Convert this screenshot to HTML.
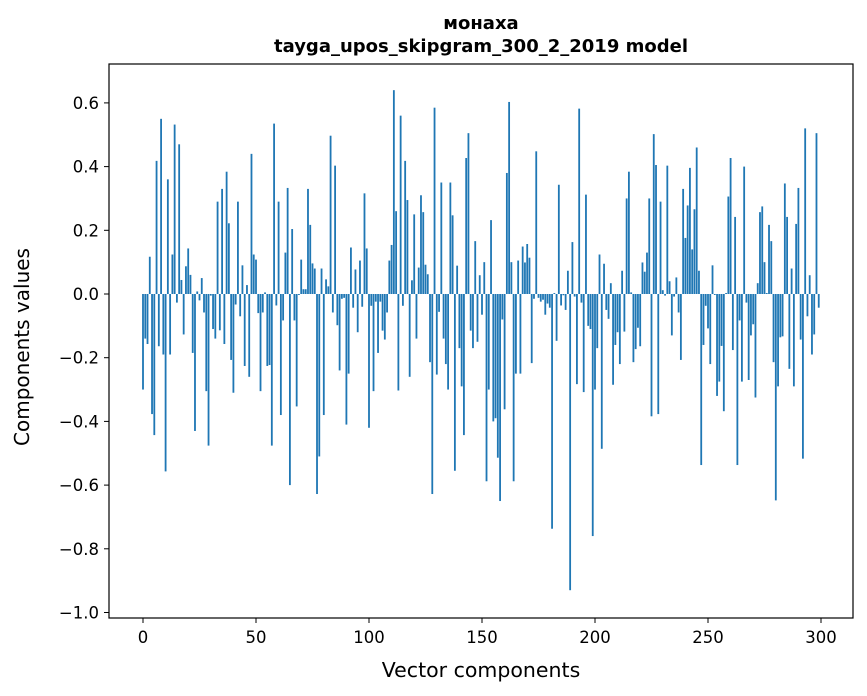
<!DOCTYPE html>
<html><head><meta charset="utf-8"><style>
body{margin:0;background:#fff;}
svg{display:block;font-family:"DejaVu Sans","Liberation Sans",sans-serif;}
</style></head><body>
<svg id="chart" width="867" height="696" viewBox="0 0 867 696" xmlns="http://www.w3.org/2000/svg">
<text x="481" y="29" text-anchor="middle" font-size="18" font-weight="bold">монаха</text>
<text x="481" y="52" text-anchor="middle" font-size="18" font-weight="bold">tayga_upos_skipgram_300_2_2019 model</text>
<g id="bars"></g>
<g id="axes"></g>
<rect x="109" y="64" width="744" height="554" fill="none" stroke="#000" stroke-width="1.2"/>
<text x="481" y="677" text-anchor="middle" font-size="20.5">Vector components</text>
<text transform="translate(29,347) rotate(-90)" text-anchor="middle" font-size="20">Components values</text>
</svg>
<script>
const values = [
-0.30,-0.14,-0.157,0.117,-0.377,-0.443,0.418,-0.164,0.55,-0.19,
-0.557,0.36,-0.19,0.124,0.532,-0.027,0.47,0.044,-0.127,0.087,
0.143,0.06,-0.185,-0.43,0.008,-0.02,0.05,-0.058,-0.305,-0.476,
-0.005,-0.11,-0.14,0.29,-0.114,0.33,-0.157,0.384,0.222,-0.207,
-0.31,-0.033,0.29,-0.07,0.09,-0.226,0.028,-0.26,0.44,0.124,
0.108,-0.06,-0.305,-0.058,0.005,-0.226,-0.223,-0.476,0.535,-0.036,
0.29,-0.38,-0.083,0.13,0.333,-0.6,0.204,-0.083,-0.353,-0.003,
0.108,0.015,0.015,0.33,0.217,0.096,0.08,-0.628,-0.51,0.08,
-0.38,0.046,0.024,0.497,-0.058,0.403,-0.098,-0.24,-0.015,-0.012,
-0.41,-0.25,0.146,-0.043,0.077,-0.12,0.105,-0.04,0.316,0.143,
-0.42,-0.037,-0.305,-0.024,-0.185,-0.024,-0.115,-0.143,-0.058,0.105,
0.154,0.64,0.26,-0.303,0.56,-0.037,0.418,0.295,-0.26,0.043,
0.25,-0.14,0.083,0.31,0.257,0.092,0.062,-0.214,-0.628,0.585,
-0.253,-0.056,0.35,-0.14,-0.22,-0.30,0.35,0.247,-0.555,0.089,
-0.17,-0.29,-0.443,0.427,0.505,-0.115,-0.17,0.166,-0.15,0.059,
-0.065,0.10,-0.588,-0.30,0.232,-0.40,-0.39,-0.514,-0.65,-0.08,
-0.362,0.38,0.603,0.10,-0.588,-0.25,0.105,-0.25,0.149,0.099,
0.157,0.114,-0.217,-0.015,0.448,-0.012,-0.024,-0.018,-0.065,-0.03,
-0.043,-0.737,0.003,-0.147,0.343,-0.036,-0.004,-0.05,0.073,-0.93,
0.163,-0.008,-0.283,0.582,-0.027,-0.308,0.312,-0.10,-0.11,-0.76,
-0.30,-0.17,0.124,-0.486,0.095,-0.05,-0.078,0.034,-0.285,-0.16,
-0.12,-0.22,0.073,-0.118,0.30,0.384,0.005,-0.214,-0.173,-0.106,
-0.164,0.099,0.07,0.13,0.30,-0.384,0.502,0.405,-0.377,0.29,
0.012,-0.005,0.403,0.04,-0.13,-0.008,0.052,-0.058,-0.207,0.33,
0.176,0.278,0.396,0.14,0.266,0.46,0.073,-0.537,-0.16,-0.037,
-0.108,-0.22,0.09,-0.003,-0.32,-0.275,-0.163,-0.368,0.003,0.306,
0.427,-0.176,0.242,-0.537,-0.083,-0.275,0.40,-0.027,-0.27,-0.13,
-0.095,-0.325,0.034,0.257,0.275,0.10,0.003,0.217,0.166,-0.214,
-0.648,-0.29,-0.136,-0.133,0.347,0.242,-0.235,0.08,-0.29,0.22,
0.333,-0.143,-0.517,0.52,-0.07,0.059,-0.19,-0.127,0.505,-0.043
];
const xTicks = [0,50,100,150,200,250,300];
const yTicks = [0.6,0.4,0.2,0.0,-0.2,-0.4,-0.6,-0.8,-1.0];

const NS = "http://www.w3.org/2000/svg";
function xScale(i){ return 143 + 2.26*i; }
function yScale(v){ return 294 - 318.5*v; }
const barW = 2.26*0.8;
const gBars = document.getElementById('bars');
values.forEach((v,i)=>{
  const r = document.createElementNS(NS,'rect');
  const y0 = yScale(0), y1 = yScale(v);
  r.setAttribute('x', xScale(i)-barW/2);
  r.setAttribute('y', Math.min(y0,y1));
  r.setAttribute('width', barW);
  r.setAttribute('height', Math.max(Math.abs(y1-y0),0.3));
  r.setAttribute('fill', '#1f77b4');
  
  
  gBars.appendChild(r);
});
const gAx = document.getElementById('axes');
xTicks.forEach(t=>{
  const x = xScale(t);
  const l = document.createElementNS(NS,'line');
  l.setAttribute('x1',x); l.setAttribute('x2',x);
  l.setAttribute('y1',618); l.setAttribute('y2',623);
  l.setAttribute('stroke','#000'); l.setAttribute('stroke-width','1');
  
  
  gAx.appendChild(l);
  const tx = document.createElementNS(NS,'text');
  tx.setAttribute('x',x); tx.setAttribute('y',643);
  tx.setAttribute('text-anchor','middle'); tx.setAttribute('font-size','16.5');
  tx.textContent = String(t);
  
  
  gAx.appendChild(tx);
});
yTicks.forEach(t=>{
  const y = yScale(t);
  const l = document.createElementNS(NS,'line');
  l.setAttribute('x1',104); l.setAttribute('x2',109);
  l.setAttribute('y1',y); l.setAttribute('y2',y);
  l.setAttribute('stroke','#000'); l.setAttribute('stroke-width','1');
  
  
  gAx.appendChild(l);
  const tx = document.createElementNS(NS,'text');
  tx.setAttribute('x',99); tx.setAttribute('y',y+6);
  tx.setAttribute('text-anchor','end'); tx.setAttribute('font-size','16.5');
  tx.textContent = (t<0?'\u2212':'') + Math.abs(t).toFixed(1);
  
  
  gAx.appendChild(tx);
});
</script>
</body></html>
